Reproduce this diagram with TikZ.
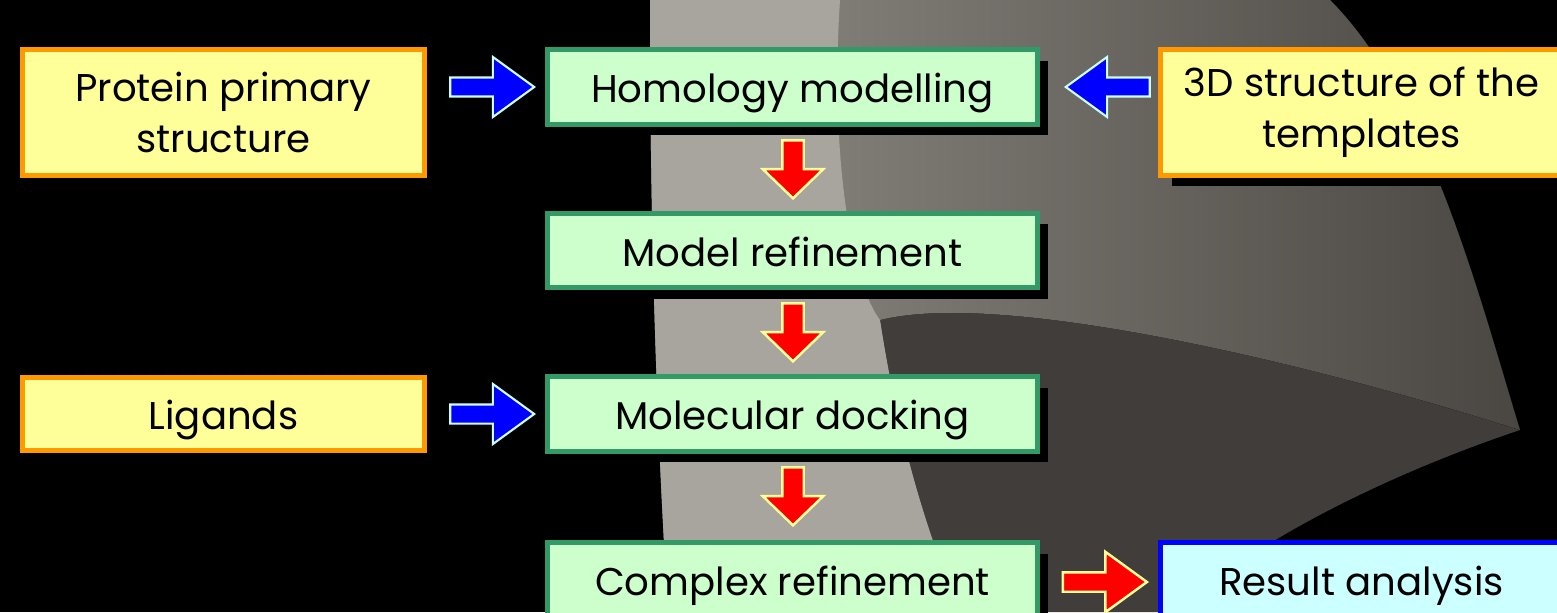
\documentclass[tikz,border=0pt]{standalone}
\usepackage{fontspec}
\setmainfont{Poppins}
\usetikzlibrary{shapes.arrows,shadows,positioning}

\definecolor{boxgreen}{HTML}{339966}
\definecolor{boxmint}{HTML}{CCFFCC}
\definecolor{boxorange}{HTML}{FF9900}
\definecolor{boxyellow}{HTML}{FFFF99}
\definecolor{boxcyan}{HTML}{CCFFFF}
\definecolor{fablight}{HTML}{A8A49E}
\definecolor{fabmid}{HTML}{8E8A84}
\definecolor{fabdeep}{HTML}{4A4641}
\definecolor{fabdark}{HTML}{403D3A}

\tikzset{
  boxshadow/.style={drop shadow={shadow xshift=0.22cm, shadow yshift=-0.22cm, fill=black, opacity=1}},
  boxtext/.style={align=center, font=\fontsize{22}{29}\selectfont, text=black},
  oneline/.style={text height=18pt, text depth=0pt},
  stepbox/.style={boxtext, oneline, boxshadow, draw=boxgreen, fill=boxmint, line width=0.1cm, minimum width=9.8cm, minimum height=1.5cm},
  inbox/.style={boxtext, boxshadow, draw=boxorange, fill=boxyellow, line width=0.1cm, minimum width=8.04cm, minimum height=2.52cm},
  outbox/.style={boxtext, oneline, boxshadow, draw=blue, fill=boxcyan, line width=0.1cm, minimum width=8.04cm, minimum height=1.5cm},
  sidearr/.style={single arrow, inner sep=0pt, inner ysep=0.17cm, minimum height=1.68cm, single arrow head extend=0.41cm, single arrow tip angle=72, anchor=tip},
  downarr/.style={single arrow, inner sep=0pt, inner ysep=0.19cm, minimum height=1.16cm, single arrow head extend=0.39cm, single arrow tip angle=92, anchor=tip, rotate=-90, fill=red, draw=boxyellow, line width=1.4pt},
  bluearr/.style={sidearr, fill=blue, draw=boxcyan, line width=1.2pt},
  redarr/.style={sidearr, fill=red, draw=boxyellow, line width=1.4pt}
}

\begin{document}
\begin{tikzpicture}[x=0.02cm, y=-0.02cm]
\path[use as bounding box] (0,0) rectangle (1557,612);
\clip (0,0) rectangle (1557,612);

% pozadi
\fill[black] (0,0) rectangle (1557,612);
\fill[fabdark] (650,0) -- (1330,0) .. controls (1430,100) and (1480,300) .. (1520,430)
  .. controls (1400,470) and (1250,540) .. (1180,612) -- (668,612) .. controls (655,400) and (650,200) .. (650,0) -- cycle;
\fill[left color=fabmid, right color=fabdeep] (650,0) -- (1330,0) .. controls (1430,100) and (1480,300) .. (1520,430)
  .. controls (1300,360) and (1000,290) .. (880,320) .. controls (900,450) and (930,540) .. (960,612)
  -- (668,612) .. controls (655,400) and (650,200) .. (650,0) -- cycle;
\fill[fablight] (650,0) -- (840,0) .. controls (830,150) and (850,280) .. (880,320)
  .. controls (900,450) and (930,540) .. (960,612) -- (668,612) .. controls (655,400) and (650,200) .. (650,0) -- cycle;

% hlavni kroky
\node[stepbox] (hom)  at (792.5,87)  {Homology modelling};
\node[stepbox] (mref) at (792.5,250.5) {Model refinement};
\node[stepbox] (dock) at (792.5,414) {Molecular docking};
\node[stepbox] (cref) at (792.5,580) {Complex refinement};

% vstupy a vystup
\node[inbox] (prot) at (223.5,112.5) {Protein primary\\structure};
\node[inbox] (tmpl) at (1361.5,112.5) {3D structure of the\\templates};
\node[inbox, oneline, minimum height=1.46cm] (lig) at (223.5,414) {Ligands};
\node[outbox] (res) at (1361.5,580) {Result analysis};

% sipky
\node[bluearr] (a1) at (536,87) {};
\node[bluearr, rotate=180] (a2) at (1064,87) {};
\node[bluearr] (a3) at (536,414) {};
\node[downarr] (d1) at (793,200) {};
\node[downarr] (d2) at (793,363) {};
\node[downarr] (d3) at (793,527) {};
\node[redarr] (a4) at (1149,582) {};

\end{tikzpicture}
\end{document}
